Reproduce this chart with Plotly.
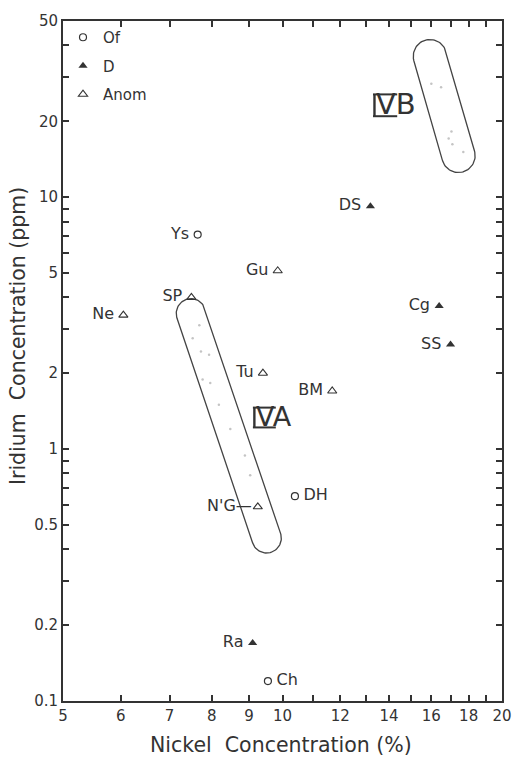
import math
import plotly.graph_objects as go

# Nickel (%) and iridium (ppm) of the iron meteorites, by structural class
of_names = ["Ys", "DH", "Ch"]
of_ni = [7.65, 10.4, 9.55]
of_ir = [7.1, 0.65, 0.12]

d_names = ["DS", "Cg", "SS", "Ra"]
d_ni = [13.2, 16.4, 17.0, 9.1]
d_ir = [9.2, 3.7, 2.6, 0.17]

anom_names = ["Gu", "SP", "Ne", "Tu", "BM", "N'G"]
anom_ni = [9.85, 7.5, 6.05, 9.4, 11.7, 9.25]
anom_ir = [5.1, 4.0, 3.4, 2.0, 1.7, 0.59]

# Group IVA and IVB members (faint dots inside the group fields)
iva_ni = [7.69, 7.53, 7.73, 7.93, 7.77, 7.96, 8.18, 8.48, 8.88, 9.03]
iva_ir = [3.10, 2.75, 2.44, 2.37, 1.89, 1.83, 1.50, 1.20, 0.943, 0.787]
ivb_ni = [16.0, 16.5, 17.05, 16.9, 17.1, 17.7]
ivb_ir = [28.2, 27.3, 18.2, 17.1, 16.2, 15.1]

# Group fields: end points of the axis (Ni, Ir) of each rounded band
iva_field = [(7.49, 3.45), (9.51, 0.443)]
ivb_field = [(15.93, 36.2), (17.43, 14.6)]

# Axis ticks
x_ticks = [5, 6, 7, 8, 9, 10, 11, 12, 13, 14, 15, 16, 17, 18, 19, 20]
x_labels = ["5", "6", "7", "8", "9", "10", "", "12", "", "14", "", "16", "", "18", "", "20"]
y_ticks = [0.1, 0.2, 0.3, 0.4, 0.5, 0.6, 0.7, 0.8, 0.9, 1, 2, 3, 4, 5, 6, 7, 8, 9,
           10, 20, 30, 40, 50]
y_labels = ["0.1", "0.2", "", "", "0.5", "", "", "", "", "1", "2", "", "", "5", "", "", "", "",
            "10", "20", "", "", "50"]

W_FIG, H_FIG = 524, 758
ML, MR, MT, MB = 63, 14, 15, 57
W = W_FIG - ML - MR
H = H_FIG - MT - MB
X_LO, X_HI = math.log10(5), math.log10(20)
Y_LO, Y_HI = math.log10(0.1), math.log10(50)

INK = "#333333"
FONT = "DejaVu Sans"
THIN = "\u2009"


def to_px(x, y):
    return ((math.log10(x) - X_LO) / (X_HI - X_LO) * W,
            (math.log10(y) - Y_LO) / (Y_HI - Y_LO) * H)


def to_data(px, py):
    return (10 ** (X_LO + px / W * (X_HI - X_LO)),
            10 ** (Y_LO + py / H * (Y_HI - Y_LO)))


def band(p1, p2, r, n=40):
    ax, ay = to_px(*p1)
    bx, by = to_px(*p2)
    ang = math.atan2(by - ay, bx - ax)
    pts = []
    for i in range(n + 1):
        t = ang - math.pi / 2 + math.pi * i / n
        pts.append((bx + r * math.cos(t), by + r * math.sin(t)))
    for i in range(n + 1):
        t = ang + math.pi / 2 + math.pi * i / n
        pts.append((ax + r * math.cos(t), ay + r * math.sin(t)))
    pts.append(pts[0])
    xs, ys = zip(*[to_data(px, py) for px, py in pts])
    return list(xs), list(ys)


def stroke(x_px, y_px, width):
    xs, ys = zip(*[to_data(px, py) for px, py in zip(x_px, y_px)])
    return go.Scatter(x=list(xs), y=list(ys), mode="lines", line=dict(color=INK, width=width),
                      showlegend=False, hoverinfo="skip")


fig = go.Figure()

for field, r in [(iva_field, 15), (ivb_field, 17)]:
    bx, by = band(field[0], field[1], r)
    fig.add_trace(go.Scatter(x=bx, y=by, mode="lines", line=dict(color="#444444", width=1.3),
                             showlegend=False, hoverinfo="skip"))

fig.add_trace(go.Scatter(x=iva_ni + ivb_ni, y=iva_ir + ivb_ir, mode="markers",
                         marker=dict(size=2.5, color="#c4c4c4"), showlegend=False,
                         hoverinfo="skip"))

label_font = dict(family=FONT, size=16, color=INK)
of_pos = ["middle left", "middle right", "middle right"]

fig.add_trace(go.Scatter(
    x=of_ni, y=of_ir, mode="markers+text", name="Of", legendgroup="of",
    text=[n + THIN if p == "middle left" else THIN + n for n, p in zip(of_names, of_pos)],
    textposition=of_pos, textfont=label_font,
    marker=dict(symbol="circle-open", size=7, color=INK, line=dict(width=1.2))))

fig.add_trace(go.Scatter(
    x=d_ni, y=d_ir, mode="markers+text", name="D", legendgroup="d",
    text=[n + THIN for n in d_names], textposition="middle left", textfont=label_font,
    marker=dict(symbol="triangle-up", size=8, color=INK)))

fig.add_trace(go.Scatter(
    x=anom_ni, y=anom_ir, mode="markers+text", name="Anom", legendgroup="anom",
    text=[n + ("—" if n == "N'G" else THIN) for n in anom_names],
    textposition="middle left", textfont=label_font,
    marker=dict(symbol="triangle-up-open", size=8, color=INK, line=dict(width=1.1))))

# Group labels: Roman numeral IV drawn as a stroke plus a "V" between two bars,
# followed by the group letter.
# (letter, Ni and Ir at the numeral's left stroke, font size, half height)
groups = [("A", 9.15, 1.334, 27, 10), ("B", 13.37, 23.14, 29, 11)]
for letter, gx, gy, size, half_h in groups:
    cx, cy = to_px(gx, gy)
    v_ink = 0.66 * size
    right = cx + 3 + v_ink
    fig.add_annotation(x=math.log10(gx), y=math.log10(gy), text="V" + letter,
                       showarrow=False, xanchor="left", yanchor="middle", xshift=0, yshift=1,
                       font=dict(family=FONT, size=size, color=INK))
    fig.add_trace(stroke([cx, cx], [cy - half_h, cy + half_h], 2.4))
    for dy in (half_h, -half_h):
        fig.add_trace(stroke([cx - 1.5, right + 1], [cy + dy, cy + dy], 2))

axis_common = dict(
    type="log", showline=True, linecolor=INK, linewidth=2, mirror="ticks",
    ticks="inside", ticklen=6, tickwidth=1.5, tickcolor=INK, showgrid=False,
    zeroline=False, tickfont=dict(family=FONT, size=15, color=INK),
)

fig.update_xaxes(range=[X_LO, X_HI], tickvals=x_ticks, ticktext=x_labels, **axis_common)
fig.update_yaxes(range=[Y_LO, Y_HI], tickvals=y_ticks, ticktext=y_labels, **axis_common)

title_font = dict(family=FONT, size=20.5, color=INK)
fig.add_annotation(xref="paper", yref="paper", x=0.4966, y=-0.0641, showarrow=False,
                   xanchor="center", yanchor="middle", text="Nickel  Concentration (%)",
                   font=title_font)
fig.add_annotation(xref="paper", yref="paper", x=-0.1029, y=0.5364, showarrow=False,
                   xanchor="center", yanchor="middle", textangle=-90,
                   text="Iridium  Concentration (ppm)", font=title_font)

fig.update_layout(
    width=W_FIG, height=H_FIG,
    margin=dict(l=ML, r=MR, t=MT, b=MB),
    paper_bgcolor="white", plot_bgcolor="white",
    font=dict(family=FONT, color=INK),
    legend=dict(x=0.0, y=1.0, xanchor="left", yanchor="top", bgcolor="rgba(0,0,0,0)",
                font=dict(family=FONT, size=15, color=INK), tracegroupgap=6,
                itemwidth=30),
)

fig.write_html("out.html")
